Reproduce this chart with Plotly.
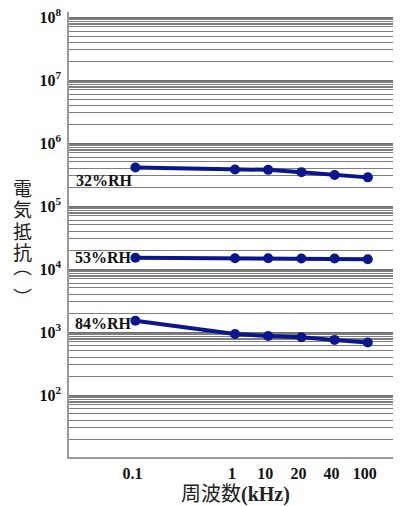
import numpy as np
import plotly.graph_objects as go

# ---- data ----
freq_labels = ["0.1", "1", "10", "20", "40", "100"]          # kHz
axis_categories = ["0.1", " ", "  ", "1", "10", "20", "40", "100"]
rh32 = [4.1e5, 3.8e5, 3.75e5, 3.45e5, 3.1e5, 2.85e5]
rh53 = [1.51e4, 1.48e4, 1.48e4, 1.47e4, 1.47e4, 1.43e4]
rh84 = [1.51e3, 930, 865, 825, 750, 680]
series_names = ["32%RH", "53%RH", "84%RH"]
decades = [2, 3, 4, 5, 6, 7, 8]
ytick_labels = ["10<sup>%d</sup>" % d for d in decades]
y_title_chars = ["電", "気", "抵", "抗", "︵", "︶"]
x_title = "周波数<span style='font-family:Liberation Serif;font-weight:bold'>(kHz)</span>"

LINE = "#0a168c"
SERIF = "Liberation Serif"
CJK = "Noto Sans CJK JP"

# page body has an 8px default margin: shrink the figure so the plot lands in place
BODY = 8
W, H = 401 - BODY, 506 - BODY
PLOT_L, PLOT_TOP, PLOT_H = 69 - BODY, 12 - BODY, 445

fig = go.Figure()

for name, vals in zip(series_names, [rh32, rh53, rh84]):
    fig.add_trace(go.Scatter(
        x=freq_labels, y=vals, mode="lines+markers", name=name,
        line=dict(color=LINE, width=4),
        marker=dict(color=LINE, size=10),
        showlegend=False,
    ))

# series labels to the left of the first point
label_shift = {"32%RH": (-4, -13), "53%RH": (-5, 0), "84%RH": (-5, -3)}
for name, vals in zip(series_names, [rh32, rh53, rh84]):
    dx, dy = label_shift[name]
    fig.add_annotation(
        x=freq_labels[0], y=np.log10(vals[0]), xref="x", yref="y",
        text="<b>%s</b>" % name, showarrow=False, xanchor="right", yanchor="middle",
        xshift=dx, yshift=dy,
        font=dict(family=SERIF, size=16, color="#111"),
    )

# graph-paper style: shaded bands just below each decade + minor lines
minor_vals = []
for d in range(1, 9):
    for m in [2, 3, 4, 5, 6, 7, 7.5, 8, 8.5, 9, 9.5]:
        minor_vals.append(m * 10 ** (d - 1))
for d in decades:
    fig.add_shape(type="rect", xref="paper", yref="y", x0=0, x1=1,
                  y0=d - 0.19, y1=d + 0.01, fillcolor="rgba(110,110,110,0.35)",
                  line=dict(width=0), layer="below")

# y-axis title, stacked vertically (centre x ~22px in the page)
char_nudge = [0, 0, 0, 0, 8, -2]   # bracket glyphs sit off-centre in their cells
for i, ch in enumerate(y_title_chars):
    fig.add_annotation(
        x=0, xref="paper", xshift=-47, xanchor="center",
        y=1 - (187 + 21.5 * i - 12) / PLOT_H, yref="paper", yanchor="middle",
        yshift=char_nudge[i],
        text=ch, showarrow=False, font=dict(family=CJK, size=19, color="#222"),
    )

# x-axis title
fig.add_annotation(
    x=0.5, xref="paper", xanchor="center",
    y=-(492 - 12 - PLOT_H) / PLOT_H, yref="paper", yanchor="middle",
    text=x_title, showarrow=False, font=dict(family=CJK, size=20, color="#222"),
)

fig.update_layout(
    width=W, height=H,
    margin=dict(l=PLOT_L, r=0, t=PLOT_TOP, b=H - PLOT_TOP - PLOT_H),
    paper_bgcolor="white", plot_bgcolor="white",
    font=dict(family=SERIF, color="#111"),
)
fig.update_xaxes(
    type="category", categoryorder="array", categoryarray=axis_categories,
    range=[-2, 8], showgrid=False, zeroline=False, automargin=False,
    showline=True, linecolor="#999", linewidth=1.5, mirror=False,
    ticks="", tickfont=dict(family=SERIF, size=16, color="#111", weight="bold"),
    ticklabelshift=-3, ticklabelstandoff=1,
)
fig.update_yaxes(
    type="log", range=[1.016, 8.08], automargin=False,
    tickmode="array", tickvals=[10 ** d for d in decades], ticktext=ytick_labels,
    tickfont=dict(family=SERIF, size=16, color="#111", weight="bold"),
    ticks="", ticklabelstandoff=3, ticklabeloverflow="allow",
    showgrid=True, gridcolor="#6f6f6f", gridwidth=1.3,
    minor=dict(tickmode="array", tickvals=minor_vals, showgrid=True,
               gridcolor="#7e7e7e", gridwidth=1, ticks=""),
    showline=True, linecolor="#999", linewidth=1.5, zeroline=False,
)

fig.write_html("out.html")
